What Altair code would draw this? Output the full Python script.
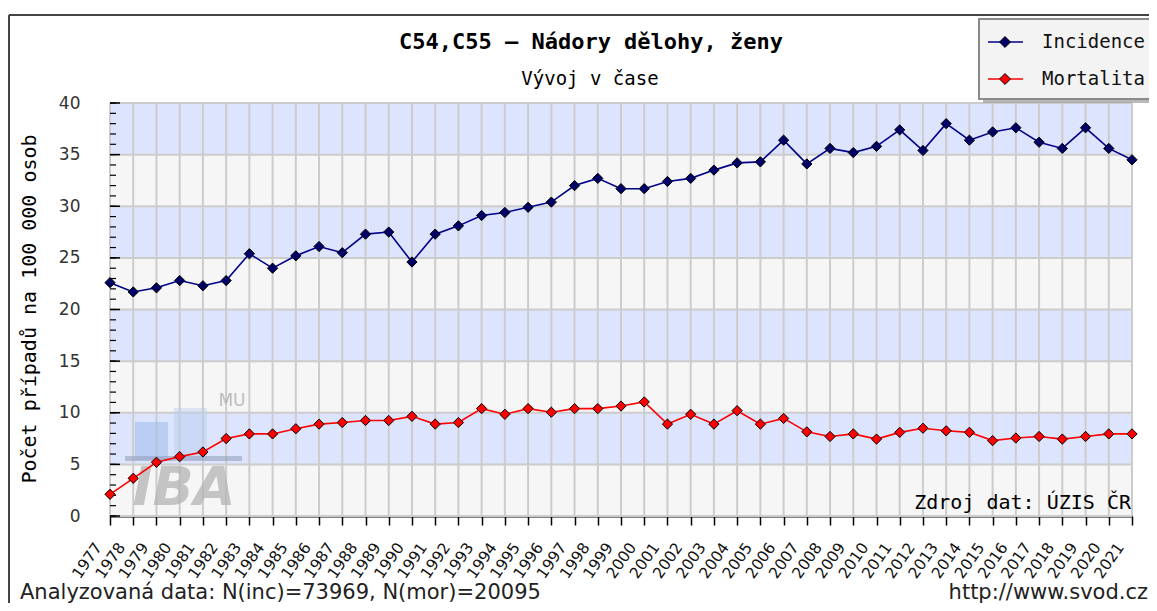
import altair as alt
import pandas as pd

# ---------------- data ----------------
years = list(range(1977, 2022))
incidence = [22.6, 21.7, 22.1, 22.8, 22.3, 22.8, 25.4, 24.0, 25.2, 26.1,
             25.5, 27.3, 27.5, 24.6, 27.3, 28.1, 29.1, 29.4, 29.9, 30.4,
             32.0, 32.7, 31.7, 31.7, 32.4, 32.7, 33.5, 34.2, 34.3, 36.4,
             34.1, 35.6, 35.2, 35.8, 37.4, 35.4, 38.0, 36.4, 37.2, 37.6,
             36.2, 35.6, 37.6, 35.6, 34.5]
mortalita = [2.1, 3.65, 5.2, 5.75, 6.2, 7.5, 7.95, 7.95, 8.45, 8.9,
             9.05, 9.25, 9.25, 9.65, 8.9, 9.05, 10.4, 9.85, 10.4, 10.05,
             10.4, 10.4, 10.65, 11.05, 8.9, 9.85, 8.9, 10.2, 8.9, 9.45,
             8.15, 7.7, 7.95, 7.45, 8.1, 8.5, 8.25, 8.1, 7.3, 7.55,
             7.7, 7.45, 7.7, 7.95, 7.95]
y_major = [0, 5, 10, 15, 20, 25, 30, 35, 40]
y_minor = list(range(0, 41))
band_lo = [0, 5, 10, 15, 20, 25, 30, 35]
band_hi = [5, 10, 15, 20, 25, 30, 35, 40]
band_col = ["#f6f6f6", "#dde4fd", "#f6f6f6", "#dde4fd",
            "#f6f6f6", "#dde4fd", "#f6f6f6", "#dde4fd"]

title_txt = "C54,C55 – Nádory dělohy, ženy"
subtitle_txt = "Vývoj v čase"
ytitle_txt = "Počet případů na 100 000 osob"
source_txt = "Zdroj dat: ÚZIS ČR"
footer_left = "Analyzovaná data: N(inc)=73969, N(mor)=20095"
footer_right = "http://www.svod.cz"
series_names = ["Incidence", "Mortalita"]
line_colors = ["#00008b", "#ff0000"]
point_fills = ["#000066", "#ff0000"]

W, H = 1022, 413
MONO = "DejaVu Sans Mono"
SANS = "DejaVu Sans"

xs = alt.Scale(domain=[1977, 2021], nice=False, zero=False)
ys = alt.Scale(domain=[0, 40], nice=False)

X_AX = alt.Axis(values=years, format="d", title=None, grid=False,
                ticks=True, tickSize=9, tickColor="#000", tickWidth=1.5,
                domain=True, domainColor="#000", domainWidth=2,
                labelAngle=-55, labelFont=SANS, labelFontSize=15.5,
                labelColor="#111", labelPadding=19, labelOffset=-12,
                labelOverlap=False, labelFlush=False,
                labelAlign="right", labelBaseline="middle")
Y_AX = alt.Axis(values=y_major, title=None, grid=False, ticks=False,
                domain=True, domainColor="#000", domainWidth=2,
                labelFont=SANS, labelFontSize=17, labelColor="#333",
                labelPadding=30, labelOverlap=False, labelFlush=False)

df = pd.DataFrame({"year": years, "Incidence": incidence, "Mortalita": mortalita})
long = df.melt("year", var_name="serie", value_name="v")

def X(field):
    return alt.X(field, scale=xs, axis=X_AX)

def Y(field):
    return alt.Y(field, scale=ys, axis=Y_AX)

# ---------------- background bands ----------------
bands = alt.Chart(pd.DataFrame({"lo": band_lo, "hi": band_hi, "c": band_col})).mark_rect().encode(
    x=alt.value(0), x2=alt.value(W),
    y=Y("lo:Q"), y2="hi:Q",
    color=alt.Color("c:N", scale=None),
)

vgrid = alt.Chart(pd.DataFrame({"year": years})).mark_rule(color="#cccccc", strokeWidth=2).encode(
    x=X("year:Q"), y=alt.value(0), y2=alt.value(H)
)
hgrid = alt.Chart(pd.DataFrame({"v": y_major})).mark_rule(color="#cccccc", strokeWidth=2).encode(
    y=Y("v:Q"), x=alt.value(0), x2=alt.value(W)
)

# ---------------- helpers ----------------
def rect(x1, x2, y1, y2, color, op):
    return alt.Chart(pd.DataFrame({"a": [0]})).mark_rect(color=color, opacity=op).encode(
        x=alt.value(x1), x2=alt.value(x2), y=alt.value(y1), y2=alt.value(y2))

def text(s, x, y, size, font=MONO, weight="normal", align="center", baseline="middle",
         color="#000000", angle=0, style="normal", op=1.0):
    return alt.Chart(pd.DataFrame({"t": [s]})).mark_text(
        font=font, fontSize=size, fontWeight=weight, align=align, baseline=baseline,
        color=color, angle=angle, fontStyle=style, opacity=op
    ).encode(x=alt.value(x), y=alt.value(y), text="t:N")

# ---------------- watermark ----------------
wm = [
    rect(25, 58, 319, 357, "#9dbcec", 0.55),
    rect(64, 97, 305, 357, "#b8cdee", 0.45),
    rect(15, 132, 353, 358, "#8f9ab8", 0.55),
    text("IBA", 74, 386, 54, font=SANS, weight="bold", style="italic", color="#b4b4b4", op=0.75),
    text("MU", 122, 298, 17, font=SANS, color="#b0b0b0", op=0.8),
]

# ---------------- y inner ticks ----------------
minor_ticks = alt.Chart(pd.DataFrame({"v": y_minor})).mark_rule(color="#000000", strokeWidth=1.2).encode(
    y=Y("v:Q"), x=alt.value(0), x2=alt.value(6))
major_ticks = alt.Chart(pd.DataFrame({"v": y_major})).mark_rule(color="#000000", strokeWidth=1.5).encode(
    y=Y("v:Q"), x=alt.value(0), x2=alt.value(10))

# ---------------- data series ----------------
lines = alt.Chart(long).mark_line(strokeWidth=1.6).encode(
    x=X("year:Q"),
    y=Y("v:Q"),
    color=alt.Color("serie:N", scale=alt.Scale(domain=series_names, range=line_colors), legend=None),
)
points = alt.Chart(long).mark_point(shape="diamond", filled=True, size=105, stroke="#000000",
                                    strokeWidth=1, opacity=1).encode(
    x=X("year:Q"),
    y=Y("v:Q"),
    fill=alt.Fill("serie:N", scale=alt.Scale(domain=series_names, range=point_fills), legend=None),
)

# ---------------- texts ----------------
texts = [
    text(title_txt, 481, -61, 22, weight="bold"),
    text(subtitle_txt, 480, -24, 19),
    text(ytitle_txt, -80, 206, 20, angle=270),
    text(source_txt, 1021, 400, 20, align="right"),
    text(footer_left, -90, 496, 21, font=SANS, align="left", baseline="alphabetic", color="#222"),
    text(footer_right, 1038, 496, 21, font=SANS, align="right", baseline="alphabetic", color="#222"),
]

# frame
frame = [
    alt.Chart(pd.DataFrame({"a": [0]})).mark_rule(color="#444444", strokeWidth=2).encode(
        x=alt.value(-101), x2=alt.value(1060), y=alt.value(-88)),
    alt.Chart(pd.DataFrame({"a": [0]})).mark_rule(color="#444444", strokeWidth=2).encode(
        x=alt.value(-101), y=alt.value(-88), y2=alt.value(520)),
]

# legend
leg = [
    rect(873, 1060, -80, 0, "#9a9a9a", 0.7),
    alt.Chart(pd.DataFrame({"a": [0]})).mark_rect(fill="#f3f3f3", stroke="#8a8a8a", strokeWidth=2).encode(
        x=alt.value(869), x2=alt.value(1060), y=alt.value(-84), y2=alt.value(-4)),
]
leg_df = pd.DataFrame({"serie": series_names, "yy": [-61, -24]})
leg_lines = alt.Chart(leg_df).mark_rule(strokeWidth=1.6).encode(
    x=alt.value(878), x2=alt.value(913), y=alt.Y("yy:Q", scale=None),
    color=alt.Color("serie:N", scale=alt.Scale(domain=series_names, range=line_colors), legend=None))
leg_pts = alt.Chart(leg_df).mark_point(shape="diamond", filled=True, size=120, stroke="#000", strokeWidth=1,
                                       opacity=1).encode(
    x=alt.value(895), y=alt.Y("yy:Q", scale=None),
    fill=alt.Fill("serie:N", scale=alt.Scale(domain=series_names, range=point_fills), legend=None))
leg_txt = alt.Chart(leg_df).mark_text(font=MONO, fontSize=19, align="left", baseline="middle", color="#111").encode(
    x=alt.value(932), y=alt.Y("yy:Q", scale=None), text="serie:N")

chart = alt.layer(
    bands, vgrid, hgrid, *wm, minor_ticks, major_ticks, lines, points,
    *texts, *frame, *leg, leg_lines, leg_pts, leg_txt
).resolve_scale(color="independent", fill="independent").properties(
    width=W, height=H,
    autosize=alt.AutoSizeParams(type="none"),
    padding={"left": 102, "top": 95, "right": 17, "bottom": 87},
    background="#ffffff",
).configure_view(strokeWidth=0)

chart.save("out.html", embed_options={"renderer": "svg", "actions": False})
